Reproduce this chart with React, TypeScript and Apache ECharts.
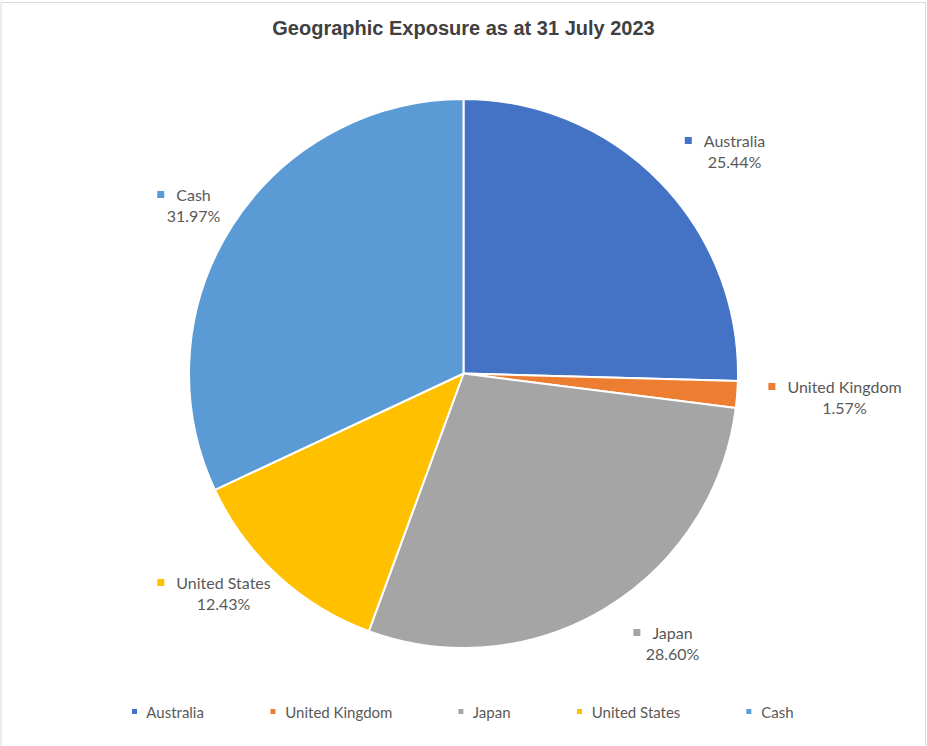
import React, { useEffect, useRef } from "react";
import * as echarts from "echarts";

const categories = ["Australia", "United Kingdom", "Japan", "United States", "Cash"];
const values = [25.44, 1.57, 28.6, 12.43, 31.97];
const colors = ["#4472C4", "#ED7D31", "#A5A5A5", "#FFC000", "#5B9BD5"];
const titleText = "Geographic Exposure as at 31 July 2023";

// label block centres (layout only)
const labelAnchors = [
  [725, 151],
  [835, 397],
  [663, 643],
  [214, 593],
  [184, 205],
];

export default function App() {
  const ref = useRef<HTMLDivElement>(null);
  useEffect(() => {
    if (!ref.current) return;
    const chart = echarts.init(ref.current, undefined, { renderer: "svg" });
    const rich: Record<string, any> = {
      g: { width: 12, height: 7, fontSize: 1 },
      s: { width: 19, height: 7, fontSize: 1 },
      n: { fontFamily: "Lato", fontSize: 16, color: "#595959", lineHeight: 21 },
      v: { fontFamily: "Lato", fontSize: 16, color: "#595959", lineHeight: 21 },
    };
    colors.forEach((c, i) => {
      rich["m" + i] = { width: 7, height: 7, backgroundColor: c, fontSize: 1 };
    });
    chart.setOption({
      animation: false,
      backgroundColor: "#ffffff",
      title: {
        text: titleText,
        left: "center",
        top: 13,
        textStyle: {
          fontFamily: "Liberation Sans",
          fontWeight: "bold",
          fontSize: 20,
          color: "#404040",
        },
      },
      graphic: [
        {
          type: "rect",
          shape: { x: 1, y: 2.5, width: 924.5, height: 760 },
          style: { fill: "none", stroke: "#d9d9d9", lineWidth: 1 },
          silent: true,
        },
      ],
      legend: {
        data: categories,
        left: 125,
        top: 699,
        icon: "rect",
        itemWidth: 7,
        itemHeight: 7,
        itemGap: 64,
        formatter: " {name}",
        textStyle: { fontFamily: "Lato", fontSize: 15, color: "#595959" },
        selectedMode: false,
      },
      series: [
        {
          type: "pie",
          center: [463.5, 373.5],
          radius: 274.5,
          startAngle: 90,
          clockwise: true,
          silent: true,
          itemStyle: { borderColor: "#ffffff", borderWidth: 2 },
          labelLine: { show: false },
          label: {
            show: true,
            position: "outside",
            align: "center",
            overflow: "none",
            edgeDistance: 0,
            formatter: (p: any) =>
              `{m${p.dataIndex}| }{g| }{n|${p.name}}\n{s| }{v|${p.value.toFixed(2)}%}`,
            rich,
          },
          labelLayout: (p: any) => ({
            x: labelAnchors[p.dataIndex][0],
            y: labelAnchors[p.dataIndex][1],
            align: "center",
            verticalAlign: "middle",
          }),
          data: categories.map((name, i) => ({
            name,
            value: values[i],
            itemStyle: { color: colors[i] },
          })),
        },
      ],
    });
    return () => chart.dispose();
  }, []);
  return (
    <div
      ref={ref}
      style={{ position: "absolute", left: 0, top: 0, width: 927, height: 746 }}
    />
  );
}
